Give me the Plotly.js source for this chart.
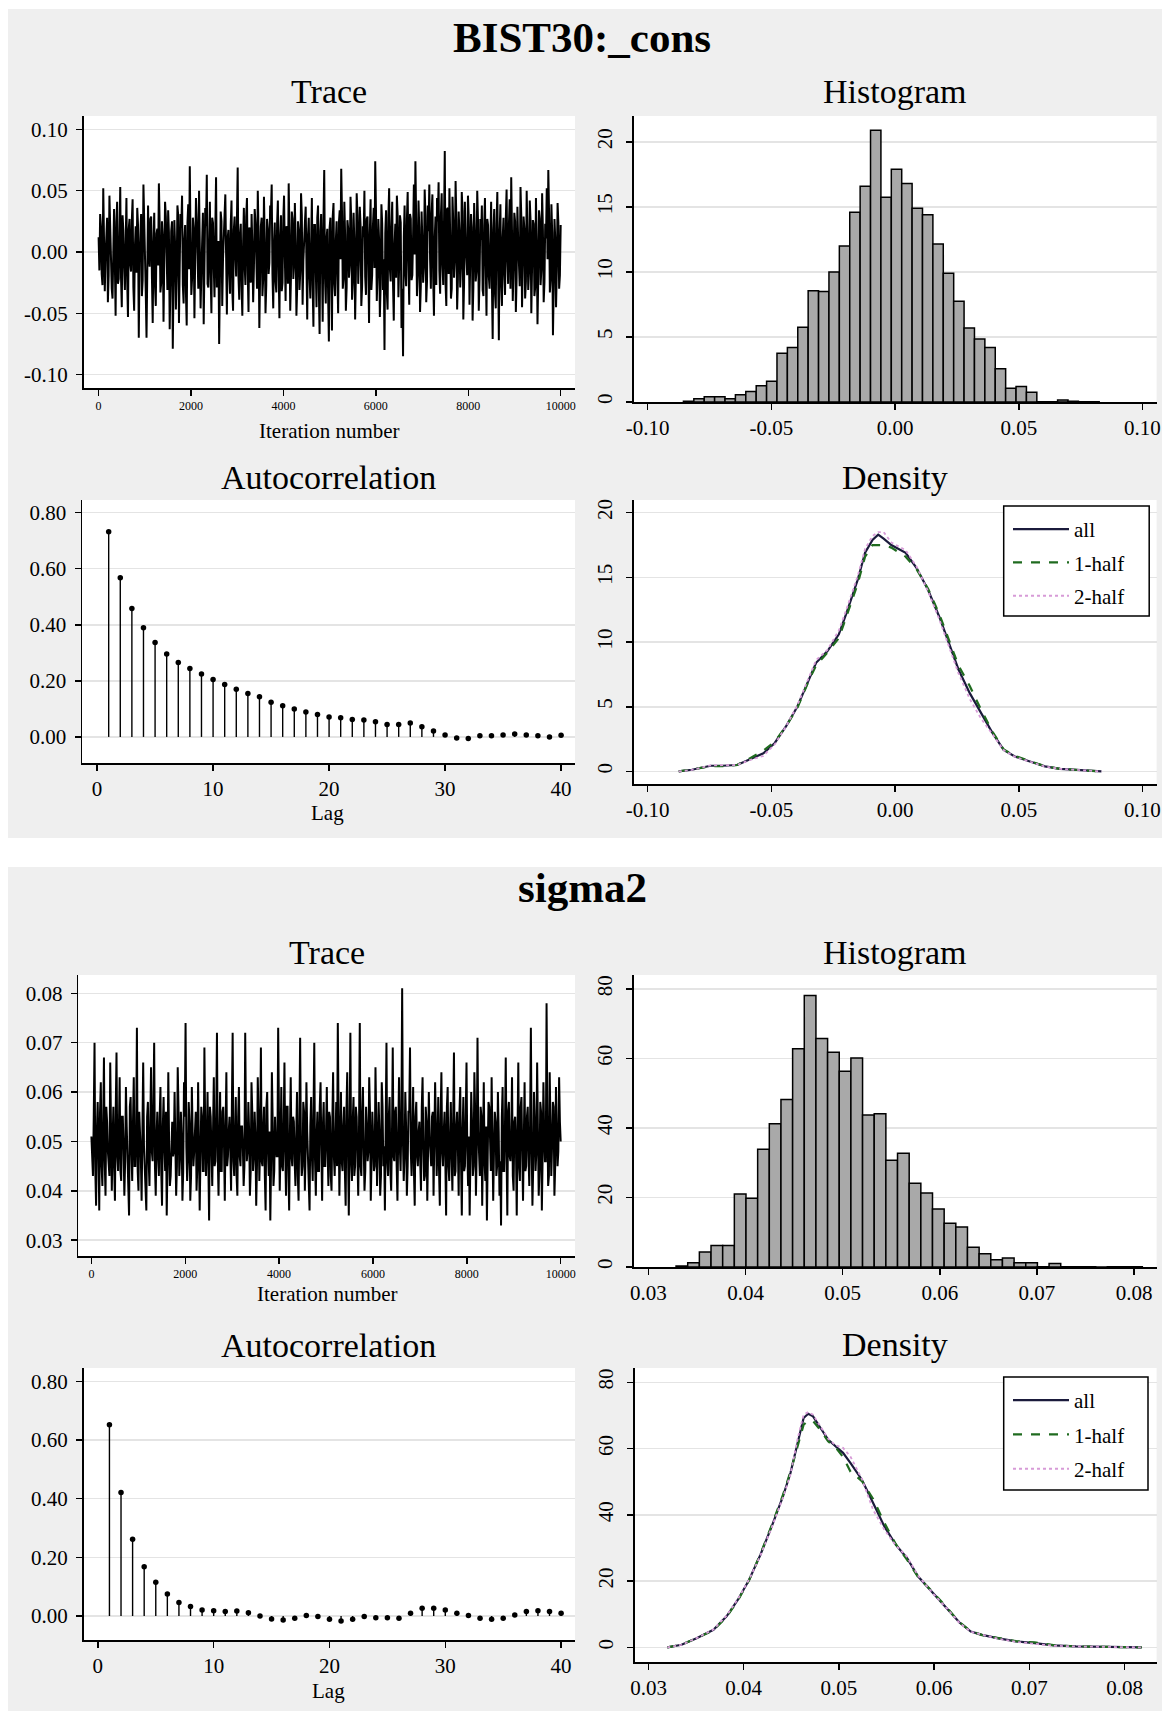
<!DOCTYPE html>
<html><head><meta charset="utf-8">
<script src="https://cdn.plot.ly/plotly-3.0.1.min.js"></script>
<style>body{margin:0;background:#fff}#chart{width:1169px;height:1711px}</style>
</head><body><div id="chart"></div>
<script>
// ---------------- DATA ----------------
const panelTitles = ['BIST30:_cons', 'sigma2'];
const subTitles = ['Trace', 'Histogram', 'Autocorrelation', 'Density'];
const seriesNames = ['all', '1-half', '2-half'];
const iterMax = 10000;

// trace draws, read as two interleaved sequences (A = every other draw incl. spikes, B = the draws in between)
const consTraceA = [
0.012,0.031,-0.018,0.052,-0.032,0.024,-0.041,0.046,0.008,-0.038,0.035,-0.052,0.041,-0.022,0.053,-0.045,0.018,-0.031,0.044,-0.053,
0.027,-0.016,0.043,-0.048,0.021,0.036,-0.070,0.015,-0.036,0.055,-0.028,-0.070,0.038,-0.012,0.029,-0.058,0.032,-0.044,0.019,0.056,
-0.033,0.025,-0.057,0.041,-0.021,0.034,-0.063,0.017,-0.079,0.026,-0.047,0.038,-0.058,0.031,0.046,-0.042,0.022,-0.060,0.039,0.070,
-0.035,0.028,-0.054,0.044,-0.019,0.050,-0.046,0.012,-0.059,0.036,0.063,-0.029,0.041,-0.050,0.024,-0.037,0.061,-0.022,-0.075,0.033,
-0.044,0.026,0.047,-0.051,0.018,-0.034,0.042,-0.048,0.029,-0.020,0.069,-0.039,0.023,-0.052,0.036,-0.027,0.044,-0.049,0.015,0.031,
-0.041,0.035,-0.024,0.050,-0.062,0.021,-0.036,0.045,-0.050,0.027,-0.018,0.038,0.055,-0.046,0.024,-0.033,0.042,-0.054,0.030,-0.025,
0.046,-0.040,0.019,0.056,-0.048,0.033,-0.022,0.040,-0.052,0.025,-0.031,0.048,-0.043,0.017,0.037,-0.055,0.028,-0.038,0.044,-0.061,
0.022,-0.045,0.038,-0.067,0.031,-0.057,0.067,-0.042,0.019,-0.073,0.028,-0.064,0.040,-0.036,0.025,-0.050,0.034,0.068,-0.030,0.041,
-0.048,0.026,-0.021,0.045,-0.039,0.032,-0.055,0.048,-0.026,0.037,-0.044,0.021,0.050,-0.035,0.029,-0.058,0.043,-0.019,0.036,0.074,
-0.040,0.027,-0.053,0.039,-0.031,-0.080,0.034,-0.047,0.052,-0.024,0.041,-0.056,0.023,0.046,-0.037,0.030,-0.062,-0.085,0.038,-0.028,
0.049,-0.043,0.027,-0.019,0.055,0.074,-0.036,0.042,-0.049,0.033,-0.025,0.051,-0.041,0.038,0.055,-0.030,0.047,-0.052,0.029,0.044,
0.057,-0.034,0.048,-0.027,0.0825,-0.044,0.036,0.052,-0.038,0.045,-0.021,0.058,-0.047,0.033,-0.029,0.049,-0.055,0.041,-0.018,0.046,
-0.043,0.031,-0.056,0.040,-0.024,0.050,-0.048,0.027,0.038,-0.036,0.044,-0.052,0.022,-0.030,0.041,-0.071,0.035,-0.046,0.049,-0.072,
0.039,-0.044,0.028,-0.035,0.051,-0.026,0.043,0.061,-0.040,0.032,-0.049,0.037,-0.022,0.053,-0.045,0.029,-0.038,0.050,-0.031,0.042,
-0.050,0.026,-0.036,0.044,-0.059,0.034,-0.027,0.048,-0.041,0.023,0.052,0.067,-0.033,0.039,-0.068,0.027,-0.045,0.040,-0.030,0.022
];
const consTraceB = [
-0.015,0.021,-0.027,0.009,-0.004,0.028,-0.019,0.013,-0.030,0.017,-0.008,0.024,-0.026,0.011,-0.021,0.030,-0.012,0.006,-0.024,0.019,
-0.010,0.026,-0.029,0.004,-0.017,0.022,-0.006,0.031,-0.023,0.014,-0.032,0.018,-0.003,0.027,-0.020,0.008,-0.028,0.015,-0.011,0.023,
-0.025,0.012,-0.007,0.029,-0.031,0.016,-0.013,0.025,-0.022,0.005,-0.018,0.030,-0.009,0.020,-0.027,0.010,-0.033,0.024,-0.014,0.007,
-0.021,0.019,-0.004,0.027,-0.030,0.013,-0.016,0.032,-0.008,0.021,-0.026,0.003,-0.019,0.028,-0.012,0.017,-0.029,0.009,-0.023,0.025,
-0.006,0.030,-0.024,0.011,-0.015,0.022,-0.031,0.018,-0.002,0.026,-0.020,0.014,-0.028,0.007,-0.011,0.029,-0.017,0.020,-0.025,0.004,
-0.013,0.024,-0.030,0.016,-0.005,0.028,-0.022,0.010,-0.027,0.019,-0.009,0.031,-0.018,0.006,-0.024,0.023,-0.014,0.012,-0.032,0.026,
-0.003,0.021,-0.026,0.015,-0.019,0.027,-0.010,0.008,-0.029,0.018,-0.016,0.030,-0.007,0.024,-0.023,0.013,-0.020,0.005,-0.027,0.022,
-0.012,0.028,-0.031,0.017,-0.008,0.025,-0.021,0.011,-0.034,0.020,-0.015,0.029,-0.026,0.009,-0.018,0.024,-0.006,0.032,-0.022,0.014,
-0.029,0.019,-0.011,0.026,-0.024,0.007,-0.017,0.030,-0.004,0.022,-0.028,0.012,-0.020,0.027,-0.009,0.016,-0.031,0.021,-0.013,0.033,
-0.018,0.010,-0.027,0.023,-0.006,0.015,-0.033,0.028,-0.014,0.019,-0.025,0.005,-0.021,0.030,-0.010,0.024,-0.030,0.012,-0.016,0.027,
-0.008,0.031,-0.023,0.014,-0.002,0.026,-0.019,0.020,-0.028,0.009,-0.013,0.029,-0.024,0.017,-0.006,0.032,-0.021,0.011,-0.027,0.025,
-0.015,0.030,-0.011,0.022,-0.026,0.035,-0.018,0.013,-0.030,0.024,-0.007,0.027,-0.022,0.016,-0.012,0.033,-0.025,0.008,-0.019,0.028,
-0.004,0.020,-0.029,0.015,-0.016,0.026,-0.023,0.010,-0.031,0.021,-0.009,0.027,-0.020,0.006,-0.026,0.018,-0.034,0.023,-0.012,0.016,
-0.027,0.012,-0.018,0.028,-0.007,0.022,-0.030,0.017,-0.013,0.025,-0.021,0.009,-0.028,0.030,-0.005,0.019,-0.024,0.014,-0.017,0.026,
-0.011,0.023,-0.029,0.008,-0.020,0.027,-0.014,0.018,-0.025,0.011,-0.006,0.030,-0.022,0.016,-0.028,0.010,-0.015,0.024,-0.019,0.012
];

const sigmaTraceA = [
0.051,0.043,0.070,0.037,0.058,0.036,0.062,0.041,0.067,0.039,0.054,0.045,0.066,0.040,0.057,0.038,0.068,0.044,0.063,0.042,
0.055,0.039,0.061,0.046,0.035,0.059,0.042,0.063,0.045,0.073,0.040,0.052,0.038,0.066,0.044,0.036,0.058,0.041,0.065,0.046,
0.070,0.039,0.056,0.043,0.061,0.037,0.059,0.044,0.035,0.064,0.041,0.053,0.047,0.060,0.039,0.065,0.043,0.056,0.038,0.062,
0.074,0.042,0.058,0.038,0.061,0.045,0.053,0.040,0.062,0.036,0.057,0.044,0.069,0.043,0.060,0.034,0.055,0.041,0.063,0.046,
0.072,0.039,0.060,0.044,0.057,0.038,0.064,0.047,0.055,0.040,0.072,0.043,0.059,0.039,0.061,0.045,0.053,0.041,0.072,0.046,
0.058,0.039,0.062,0.044,0.056,0.037,0.063,0.042,0.069,0.045,0.057,0.036,0.060,0.043,0.034,0.064,0.041,0.055,0.047,0.073,
0.040,0.061,0.044,0.066,0.039,0.057,0.036,0.063,0.045,0.054,0.041,0.060,0.038,0.071,0.043,0.058,0.040,0.062,0.046,0.036,
0.059,0.042,0.070,0.039,0.056,0.044,0.062,0.038,0.058,0.045,0.061,0.041,0.055,0.040,0.064,0.043,0.058,0.074,0.039,0.060,
0.044,0.057,0.037,0.064,0.035,0.072,0.042,0.059,0.045,0.055,0.039,0.074,0.043,0.061,0.040,0.057,0.046,0.063,0.038,0.056,
0.044,0.065,0.041,0.058,0.039,0.062,0.045,0.036,0.070,0.043,0.059,0.040,0.069,0.046,0.057,0.038,0.063,0.044,0.081,0.042,
0.060,0.039,0.056,0.069,0.043,0.061,0.037,0.058,0.045,0.054,0.040,0.063,0.042,0.057,0.038,0.060,0.046,0.055,0.039,0.062,
0.043,0.059,0.037,0.064,0.045,0.056,0.035,0.061,0.042,0.058,0.040,0.068,0.044,0.056,0.039,0.061,0.035,0.059,0.045,0.066,
0.041,0.035,0.060,0.043,0.064,0.039,0.071,0.044,0.057,0.037,0.062,0.042,0.034,0.058,0.045,0.063,0.038,0.056,0.043,0.060,
0.039,0.033,0.061,0.044,0.067,0.035,0.058,0.046,0.063,0.040,0.055,0.035,0.066,0.042,0.059,0.038,0.062,0.045,0.057,0.041,
0.073,0.037,0.060,0.044,0.066,0.039,0.058,0.036,0.062,0.046,0.078,0.041,0.064,0.043,0.058,0.039,0.061,0.045,0.063,0.050
];
const sigmaTraceB = [
0.047,0.055,0.044,0.052,0.049,0.056,0.045,0.053,0.046,0.057,0.048,0.043,0.054,0.050,0.045,0.056,0.047,0.052,0.044,0.055,
0.049,0.046,0.053,0.043,0.057,0.048,0.054,0.045,0.051,0.044,0.056,0.047,0.052,0.049,0.043,0.055,0.046,0.053,0.048,0.057,
0.045,0.051,0.047,0.055,0.044,0.053,0.049,0.056,0.046,0.050,0.043,0.054,0.048,0.052,0.045,0.057,0.047,0.051,0.044,0.055,
0.049,0.046,0.054,0.043,0.052,0.048,0.056,0.045,0.051,0.047,0.055,0.044,0.053,0.049,0.046,0.057,0.048,0.052,0.045,0.054,
0.047,0.050,0.044,0.056,0.049,0.053,0.045,0.052,0.048,0.057,0.046,0.051,0.043,0.055,0.047,0.053,0.049,0.045,0.054,0.048,
0.052,0.044,0.056,0.047,0.051,0.045,0.055,0.049,0.046,0.053,0.043,0.057,0.048,0.052,0.046,0.054,0.044,0.050,0.047,0.056,
0.049,0.045,0.053,0.048,0.057,0.044,0.052,0.047,0.055,0.046,0.051,0.043,0.054,0.049,0.045,0.056,0.048,0.052,0.044,0.053,
0.047,0.055,0.046,0.051,0.044,0.057,0.049,0.053,0.045,0.052,0.048,0.056,0.043,0.054,0.047,0.050,0.045,0.055,0.049,0.046,
0.053,0.044,0.056,0.048,0.051,0.046,0.054,0.043,0.057,0.047,0.052,0.045,0.055,0.049,0.044,0.053,0.048,0.056,0.046,0.051,
0.045,0.054,0.048,0.052,0.043,0.057,0.049,0.053,0.046,0.055,0.044,0.051,0.047,0.056,0.045,0.052,0.049,0.054,0.050,0.047,
0.053,0.045,0.056,0.048,0.051,0.044,0.055,0.047,0.052,0.046,0.057,0.049,0.043,0.054,0.048,0.051,0.045,0.056,0.047,0.053,
0.049,0.044,0.055,0.048,0.052,0.046,0.057,0.045,0.051,0.047,0.054,0.043,0.053,0.049,0.056,0.046,0.052,0.044,0.055,0.048,
0.051,0.047,0.054,0.045,0.056,0.048,0.052,0.043,0.055,0.049,0.046,0.053,0.047,0.057,0.044,0.051,0.048,0.054,0.045,0.052,
0.046,0.055,0.044,0.053,0.048,0.056,0.047,0.051,0.043,0.054,0.049,0.052,0.045,0.057,0.048,0.050,0.044,0.055,0.047,0.053,
0.049,0.045,0.054,0.048,0.052,0.044,0.056,0.047,0.051,0.046,0.055,0.043,0.053,0.049,0.057,0.045,0.052,0.048,0.054,0.050
];

// histograms (density scale), 40 bins each
const consBinStart = -0.0855, consBinWidth = 0.0042;
const consHist = [0.05,0.25,0.4,0.4,0.25,0.55,0.8,1.25,1.6,3.75,4.2,5.75,8.55,8.5,10.0,12.0,14.6,16.6,20.9,15.75,
                  17.9,16.8,14.9,14.4,12.15,9.9,7.75,5.7,4.85,4.2,2.55,1.05,1.2,0.75,0.02,0.02,0.15,0.05,0.02,0.02];
const sigmaBinStart = 0.03285, sigmaBinWidth = 0.0012;
const sigmaHist = [0.3,1.2,4.3,6.2,6.2,21.0,19.8,33.9,41.2,48.2,62.8,78.1,65.7,61.8,56.3,60.1,43.7,44.1,30.7,32.7,
                   24.1,21.3,16.7,12.6,11.5,5.7,3.8,2.1,2.6,1.2,1.2,0.1,1.0,0.1,0.05,0.05,0.0,0.05,0.05,0.1];

// autocorrelation
const lags = [1,2,3,4,5,6,7,8,9,10,11,12,13,14,15,16,17,18,19,20,21,22,23,24,25,26,27,28,29,30,31,32,33,34,35,36,37,38,39,40];
const consAcf = [0.732,0.568,0.458,0.389,0.337,0.296,0.265,0.244,0.224,0.205,0.187,0.170,0.155,0.143,0.124,0.111,0.100,0.089,0.080,0.071,
                 0.068,0.062,0.060,0.054,0.044,0.044,0.050,0.036,0.021,0.007,-0.004,-0.006,0.004,0.004,0.007,0.010,0.007,0.004,0.000,0.006];
const sigmaAcf = [0.652,0.421,0.262,0.168,0.115,0.075,0.046,0.032,0.020,0.018,0.015,0.017,0.011,0.000,-0.010,-0.014,-0.008,0.002,-0.002,-0.011,
                  -0.017,-0.011,-0.002,-0.006,-0.006,-0.008,0.009,0.026,0.026,0.020,0.009,0.002,-0.008,-0.011,-0.008,0.003,0.015,0.018,0.015,0.009];

// kernel densities
const consDensX = [-0.0874,-0.0821,-0.0745,-0.0699,-0.0638,-0.0592,-0.0532,-0.0486,-0.044,-0.0395,-0.0349,-0.0319,-0.0273,-0.0227,-0.0197,-0.0151,-0.0121,-0.0091,-0.0068,-0.0046,
                   -0.0015,0.0012,0.0043,0.0088,0.0134,0.018,0.0218,0.0256,0.0302,0.0347,0.0393,0.0439,0.0484,0.0545,0.0606,0.0667,0.0743,0.0834];
const consDensAll = [0,0.13,0.44,0.44,0.5,0.9,1.4,2.2,3.5,5.0,7.1,8.4,9.3,10.6,12.2,14.8,16.9,17.9,18.3,18.0,
                     17.5,17.25,16.9,15.7,14.0,11.9,9.9,7.9,6.05,4.5,3.0,1.67,1.16,0.77,0.39,0.2,0.13,0];
const consDensH1 = [0,0.15,0.4,0.4,0.5,0.95,1.6,2.3,3.5,4.9,7.0,8.2,9.2,10.3,12.0,14.5,16.6,17.5,17.5,17.5,
                    17.3,17.0,16.6,15.6,14.1,12.1,10.1,8.2,6.6,4.8,3.1,1.7,1.2,0.8,0.4,0.2,0.13,0];
const consDensH2 = [0,0.12,0.47,0.47,0.5,0.85,1.2,2.1,3.5,5.1,7.3,8.6,9.4,10.9,12.5,15.1,17.2,18.2,18.5,18.5,
                    17.7,17.4,17.1,15.8,13.9,11.7,9.7,7.6,5.6,4.1,2.9,1.65,1.13,0.75,0.38,0.2,0.13,0];

const sigmaDensX = [0.03197,0.03347,0.03505,0.03682,0.0382,0.03939,0.04057,0.04176,0.04294,0.04412,0.04491,0.0457,0.04629,0.04677,0.04728,0.04807,0.04886,0.04964,0.05043,0.05122,
                    0.05241,0.05359,0.05477,0.05596,0.05714,0.05832,0.0599,0.06148,0.06266,0.06385,0.06503,0.06661,0.06858,0.07055,0.07252,0.07489,0.07805,0.08179];
const sigmaDensAll = [0,0.8,2.8,5.3,9.4,14.4,20.4,28.0,36.5,45.6,52.6,62.7,69.2,70.5,69.7,66.2,62.7,60.7,58.7,55.6,
                      50.6,43.6,36.5,31.0,27.0,21.4,16.4,11.4,7.5,4.8,3.8,2.8,1.8,1.3,0.6,0.3,0.1,0];
const sigmaDensH1 = [0,0.8,2.8,5.2,9.2,14.2,20.3,28.2,36.8,46.0,53.0,61.5,67.2,68.4,68.3,65.5,62.2,60.4,57.5,53.0,
                     50.2,44.8,37.6,31.2,26.5,21.2,16.6,11.5,7.6,4.9,3.7,2.9,1.9,1.5,0.7,0.3,0.1,0];
const sigmaDensH2 = [0,0.8,2.8,5.4,9.6,14.6,20.5,27.8,36.2,45.2,52.2,63.5,70.2,71.0,70.2,66.8,63.0,61.0,60.2,57.5,
                     50.8,41.5,35.5,30.8,27.4,21.6,16.2,11.3,7.4,4.7,3.9,2.7,1.7,1.1,0.5,0.3,0.1,0];

// tick labels
const traceXTicks = [0,2000,4000,6000,8000,10000];
const consTraceYTicks = [-0.10,-0.05,0.00,0.05,0.10];
const consTraceYText = ['-0.10','-0.05','0.00','0.05','0.10'];
const consXTicks = [-0.10,-0.05,0.00,0.05,0.10];
const consXText = ['-0.10','-0.05','0.00','0.05','0.10'];
const consYTicks = [0,5,10,15,20];
const acfXTicks = [0,10,20,30,40];
const acfYTicks = [0,0.2,0.4,0.6,0.8];
const acfYText = ['0.00','0.20','0.40','0.60','0.80'];
const sigmaTraceYTicks = [0.03,0.04,0.05,0.06,0.07,0.08];
const sigmaTraceYText = ['0.03','0.04','0.05','0.06','0.07','0.08'];
const sigmaXTicks = [0.03,0.04,0.05,0.06,0.07,0.08];
const sigmaXText = ['0.03','0.04','0.05','0.06','0.07','0.08'];
const sigmaYTicks = [0,20,40,60,80];

// ---------------- STYLE / LAYOUT ----------------
const W = 1169, H = 1711;
const SERIF = 'Liberation Serif, Times New Roman, serif';
const COL_ALL = '#1b1b3c', COL_H1 = '#1f6b1f', COL_H2 = '#d79bd7';
const px = (a, b) => [a / W, b / W];
const py = (top, bottom) => [1 - bottom / H, 1 - top / H];

const dom = {
  1: {x: px(83.5, 575),   y: py(116, 388)},
  2: {x: px(633.7, 1156.6), y: py(116, 402)},
  3: {x: px(82, 575),     y: py(500, 763)},
  4: {x: px(633.7, 1156.6), y: py(500, 784)},
  5: {x: px(78.3, 575),   y: py(975, 1256)},
  6: {x: px(633.7, 1156.6), y: py(975, 1267)},
  7: {x: px(83.5, 575),   y: py(1368, 1640)},
  8: {x: px(634.5, 1156.6), y: py(1368, 1662)}
};

const axBase = {showline: true, linecolor: '#000', linewidth: 1.5, ticks: 'outside', ticklen: 6, tickwidth: 1.5,
  tickcolor: '#000', zeroline: false, showgrid: false, fixedrange: true, tickmode: 'array',
  tickfont: {family: SERIF, size: 21, color: '#000'}};
const yBase = Object.assign({}, axBase, {showgrid: true, gridcolor: '#e4e4e4', gridwidth: 1.5});

function xa(n, range, vals, text, extra) {
  return Object.assign({}, axBase, {domain: dom[n].x, anchor: 'y' + (n === 1 ? '' : n), range: range,
    tickvals: vals, ticktext: text || vals.map(String)}, extra || {});
}
function ya(n, range, vals, text, extra) {
  return Object.assign({}, yBase, {domain: dom[n].y, anchor: 'x' + (n === 1 ? '' : n), range: range,
    tickvals: vals, ticktext: text || vals.map(String)}, extra || {});
}
const smallTick = {tickfont: {family: SERIF, size: 12, color: '#000'}, ticklabelstandoff: 0};
const rotY = {tickangle: -90, ticklabelstandoff: 6};

const layout = {
  width: W, height: H, margin: {l: 0, r: 0, t: 0, b: 0},
  paper_bgcolor: '#ffffff', plot_bgcolor: 'rgba(0,0,0,0)',
  font: {family: SERIF, color: '#000'},
  showlegend: true,
  xaxis:  xa(1, [-327, 10310], traceXTicks, null, smallTick),
  yaxis:  ya(1, [-0.111, 0.111], consTraceYTicks, consTraceYText, {ticklabelstandoff: 4}),
  xaxis2: xa(2, [-0.1056, 0.1057], consXTicks, consXText),
  yaxis2: ya(2, [0, 22], consYTicks, null, rotY),
  xaxis3: xa(3, [-1.3, 41.2], acfXTicks),
  yaxis3: ya(3, [-0.093, 0.845], acfYTicks, acfYText, {ticklabelstandoff: 4}),
  xaxis4: xa(4, [-0.1056, 0.1057], consXTicks, consXText),
  yaxis4: ya(4, [-0.97, 20.98], consYTicks, null, rotY),
  xaxis5: xa(5, [-279, 10305], traceXTicks, null, smallTick),
  yaxis5: ya(5, [0.0268, 0.0837], sigmaTraceYTicks, sigmaTraceYText, {ticklabelstandoff: 4}),
  xaxis6: xa(6, [0.02849, 0.08232], sigmaXTicks, sigmaXText),
  yaxis6: ya(6, [0, 84], sigmaYTicks, null, rotY),
  xaxis7: xa(7, [-1.24, 41.2], acfXTicks),
  yaxis7: ya(7, [-0.082, 0.846], acfYTicks, acfYText, {ticklabelstandoff: 4}),
  xaxis8: xa(8, [0.02853, 0.08336], sigmaXTicks, sigmaXText),
  yaxis8: ya(8, [-4.4, 84.3], sigmaYTicks, null, rotY),
  legend: {x: 1008 / W, xanchor: 'left', y: 1 - 509 / H, yanchor: 'top', bgcolor: 'rgba(0,0,0,0)',
    borderwidth: 0, font: {family: SERIF, size: 21, color: '#000'}, itemwidth: 56, tracegroupgap: 3, traceorder: 'grouped'},
  legend2: {x: 1008 / W, xanchor: 'left', y: 1 - 1380 / H, yanchor: 'top', bgcolor: 'rgba(0,0,0,0)',
    borderwidth: 0, font: {family: SERIF, size: 21, color: '#000'}, itemwidth: 56, tracegroupgap: 4, traceorder: 'grouped'},
  shapes: [],
  annotations: []
};

// grey panel backgrounds and white plot regions
layout.shapes.push({type: 'rect', xref: 'paper', yref: 'paper', x0: 8 / W, x1: 1162 / W, y0: 1 - 838 / H, y1: 1 - 9 / H,
  fillcolor: '#efefef', line: {width: 0}, layer: 'below'});
layout.shapes.push({type: 'rect', xref: 'paper', yref: 'paper', x0: 8 / W, x1: 1162 / W, y0: 0, y1: 1 - 867 / H,
  fillcolor: '#efefef', line: {width: 0}, layer: 'below'});
for (let n = 1; n <= 8; n++) {
  layout.shapes.push({type: 'rect', xref: 'paper', yref: 'paper', x0: dom[n].x[0], x1: dom[n].x[1],
    y0: dom[n].y[0], y1: dom[n].y[1], fillcolor: '#ffffff', line: {width: 0}, layer: 'below'});
}
// legend frames
[[1003.7, 506, 1149.2, 616], [1003.7, 1377, 1148, 1490]].forEach(b => {
  layout.shapes.push({type: 'rect', xref: 'paper', yref: 'paper', x0: b[0] / W, x1: b[2] / W, y0: 1 - b[3] / H, y1: 1 - b[1] / H,
    fillcolor: '#ffffff', line: {color: '#000', width: 1.5}, layer: 'above'});
});

function ann(text, xPix, yPix, size, bold) {
  layout.annotations.push({text: bold ? '<b>' + text + '</b>' : text, x: xPix / W, y: 1 - yPix / H, xref: 'paper', yref: 'paper',
    xanchor: 'center', yanchor: 'middle', showarrow: false, font: {family: SERIF, size: size, color: '#000'}});
}
ann(panelTitles[0], 582, 37, 43, true);
ann(panelTitles[1], 582, 887, 43, true);
ann(subTitles[0], 329, 92, 34); ann(subTitles[1], 895, 92, 34);
ann(subTitles[2], 328, 477, 34); ann(subTitles[3], 895, 477, 34);
ann(subTitles[0], 327, 952, 34); ann(subTitles[1], 895, 952, 34);
ann(subTitles[2], 328, 1345, 34); ann(subTitles[3], 895, 1344, 34);
ann('Iteration number', 329, 431, 21); ann('Iteration number', 327, 1294, 21);
ann('Lag', 327, 813, 21); ann('Lag', 328, 1691, 21);

// ---------------- TRACES ----------------
const data = [];
function interleave(a, b) {
  const out = [];
  for (let i = 0; i < a.length; i++) { out.push(a[i]); if (i < a.length - 1) out.push(b[i]); }
  return out;
}
function traceLine(vals, n) {
  data.push({type: 'scatter', mode: 'lines', x0: 0, dx: iterMax / (vals.length - 1), y: vals,
    xaxis: 'x' + (n === 1 ? '' : n), yaxis: 'y' + (n === 1 ? '' : n),
    line: {color: '#000', width: 2.0}, showlegend: false, hoverinfo: 'skip'});
}
function histBars(vals, start, width, n) {
  data.push({type: 'bar', x0: start + width / 2, dx: width, y: vals, width: width,
    xaxis: 'x' + n, yaxis: 'y' + n, marker: {color: '#a9a9a9', line: {color: '#000', width: 1.5}},
    showlegend: false, hoverinfo: 'skip'});
}
function acfStems(vals, n) {
  const sx = [], sy = [];
  lags.forEach((l, i) => { sx.push(l, l, null); sy.push(0, vals[i], null); });
  data.push({type: 'scatter', mode: 'lines', x: sx, y: sy, xaxis: 'x' + n, yaxis: 'y' + n,
    line: {color: '#000', width: 1.4}, showlegend: false, hoverinfo: 'skip'});
  data.push({type: 'scatter', mode: 'markers', x: lags, y: vals, xaxis: 'x' + n, yaxis: 'y' + n,
    marker: {color: '#000', size: 5.5}, showlegend: false, hoverinfo: 'skip'});
}
function densLines(xs, all, h1, h2, n, leg) {
  const specs = [[all, COL_ALL, 'solid', 2.2], [h1, COL_H1, 'dash', 2.2], [h2, COL_H2, 'dot', 1.8]];
  specs.forEach((s, i) => {
    data.push({type: 'scatter', mode: 'lines', x: xs, y: s[0], name: seriesNames[i], legend: leg,
      legendgroup: leg + i, xaxis: 'x' + n, yaxis: 'y' + n,
      line: {color: s[1], dash: s[2], width: s[3]}, hoverinfo: 'skip'});
  });
}

traceLine(interleave(consTraceA, consTraceB), 1);
histBars(consHist, consBinStart, consBinWidth, 2);
acfStems(consAcf, 3);
densLines(consDensX, consDensAll, consDensH1, consDensH2, 4, 'legend');
traceLine(interleave(sigmaTraceA, sigmaTraceB), 5);
histBars(sigmaHist, sigmaBinStart, sigmaBinWidth, 6);
acfStems(sigmaAcf, 7);
densLines(sigmaDensX, sigmaDensAll, sigmaDensH1, sigmaDensH2, 8, 'legend2');

Plotly.newPlot('chart', data, layout, {staticPlot: true, displayModeBar: false});
</script>
</body></html>
